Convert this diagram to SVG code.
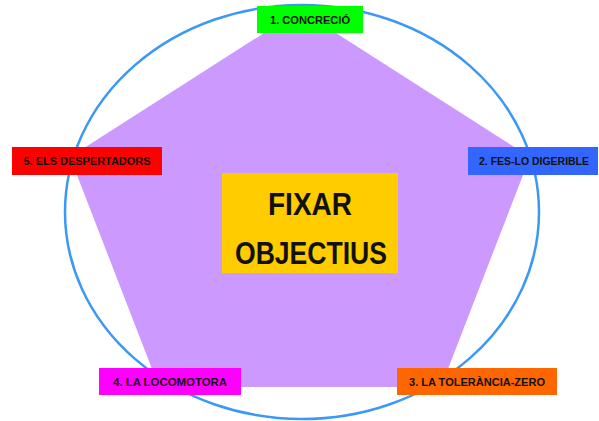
<svg xmlns="http://www.w3.org/2000/svg" width="599" height="421" viewBox="0 0 599 421">
  <style>
    .lbl { font-family: "Liberation Sans", Arial, sans-serif; font-weight: bold; font-size: 11.6px; fill: #111; text-anchor: middle; }
    .big { font-family: "Liberation Sans", Arial, sans-serif; font-weight: bold; font-size: 31px; fill: #111; text-anchor: middle; }
  </style>
  <rect x="0" y="0" width="599" height="421" fill="#ffffff"/>
  <g id="shape">
    <polygon points="300,10 530,157 441,387 159,387 70,157" fill="#cc99ff"/>
  </g>
  <g id="connectors">
    <ellipse cx="302" cy="212" rx="237" ry="207" fill="none" stroke="#3b99f5" stroke-width="2.5"/>
  </g>
  <g id="center">
    <rect x="222" y="173" width="176" height="100" fill="#ffcc00"/>
    <text class="big" x="310" y="215" textLength="84" lengthAdjust="spacingAndGlyphs">FIXAR</text>
    <text class="big" x="311" y="264" textLength="152" lengthAdjust="spacingAndGlyphs">OBJECTIUS</text>
  </g>
  <g id="n1">
    <rect x="257" y="6" width="106" height="27" fill="#00ff00"/>
    <text class="lbl" x="310" y="24" textLength="80" lengthAdjust="spacingAndGlyphs">1. CONCRECIÓ</text>
  </g>
  <g id="n2">
    <rect x="468" y="147" width="130" height="28" fill="#3366ff"/>
    <text class="lbl" x="534" y="165" style="font-size:11px" textLength="110" lengthAdjust="spacingAndGlyphs">2. FES-LO DIGERIBLE</text>
  </g>
  <g id="n3">
    <rect x="397" y="368" width="160" height="27" fill="#ff6600"/>
    <text class="lbl" x="477" y="386" textLength="136" lengthAdjust="spacingAndGlyphs">3. LA TOLERÀNCIA-ZERO</text>
  </g>
  <g id="n4">
    <rect x="99" y="368" width="142" height="27" fill="#ff00ff"/>
    <text class="lbl" x="170" y="386" textLength="114" lengthAdjust="spacingAndGlyphs">4. LA LOCOMOTORA</text>
  </g>
  <g id="n5">
    <rect x="12" y="147" width="150" height="28" fill="#ff0000"/>
    <text class="lbl" x="87" y="165" textLength="127" lengthAdjust="spacingAndGlyphs">5. ELS DESPERTADORS</text>
  </g>
</svg>
